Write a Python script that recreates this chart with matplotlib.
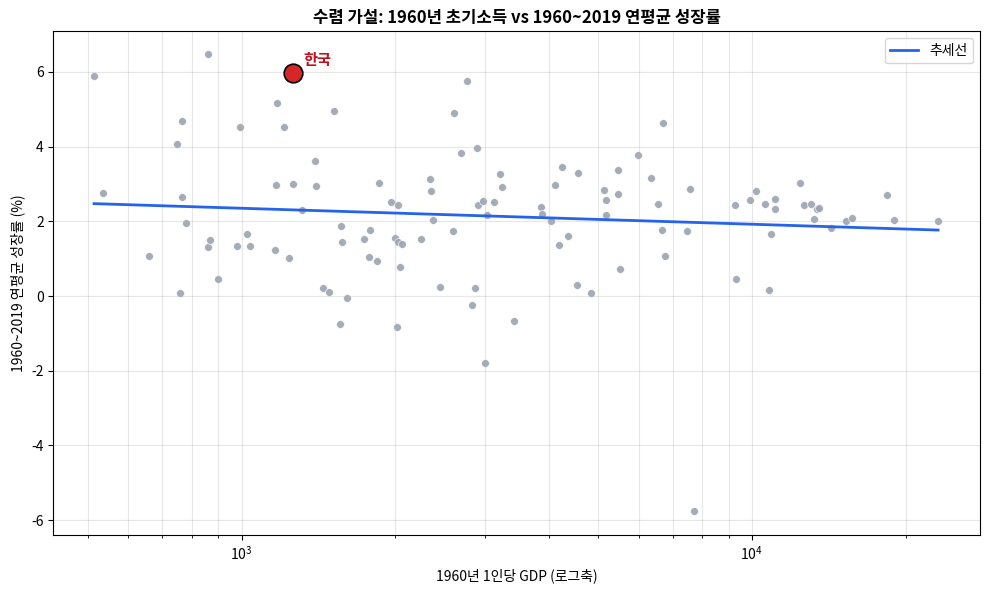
import numpy as np
import matplotlib.pyplot as plt

plt.rcParams['font.family'] = ['Noto Sans CJK KR', 'DejaVu Sans']
plt.rcParams['axes.unicode_minus'] = False

# 1960 GDP per capita and 1960-2019 average growth (%)
gdp_1960 = [514, 536, 660, 746, 756, 763, 766, 777, 858, 858, 869, 901, 978, 995,
            1023, 1041, 1161, 1166, 1176, 1209, 1236, 1259, 1311, 1390, 1397, 1441,
            1481, 1515, 1557, 1564, 1571, 1607, 1735, 1774, 1782, 1839, 1856, 1960,
            1995, 2013, 2023, 2023, 2059, 2041, 2244, 2337, 2348, 2369, 2445, 2593,
            2604, 2688, 2762, 2825, 2864, 2890, 2902, 2969, 2996, 3023, 3120, 3205,
            3235, 3414, 3857, 3874, 4036, 4110, 4185, 4242, 4359, 4540, 4560, 4834,
            5127, 5174, 5174, 5464, 5464, 5513, 5976, 6339, 6542, 6661, 6692, 6753,
            7457, 7559, 7697, 9262, 9304, 9910, 10181, 10605, 10797, 10896, 11092,
            11092, 12418, 12647, 13051, 13230, 13411, 13532, 14285, 15286, 15704,
            18400, 18990, 23160]
growth = [5.88, 2.76, 1.07, 4.07, 0.08, 2.66, 4.69, 1.95, 6.48, 1.31, 1.50, 0.45, 1.34, 4.52,
          1.66, 1.35, 1.23, 2.97, 5.17, 4.52, 1.02, 2.99, 2.30, 3.61, 2.96, 0.21,
          0.11, 4.95, -0.76, 1.87, 1.44, -0.05, 1.52, 1.05, 1.77, 0.94, 3.02, 2.52,
          1.55, -0.83, 2.44, 1.45, 1.39, 0.78, 1.52, 3.13, 2.81, 2.03, 0.24, 1.74,
          4.90, 3.83, 5.76, -0.24, 0.21, 3.96, 2.44, 2.54, -1.80, 2.17, 2.52, 3.27,
          2.92, -0.67, 2.38, 2.20, 2.00, 2.97, 1.37, 3.45, 1.61, 0.29, 3.29, 0.08,
          2.84, 2.57, 2.17, 3.37, 2.73, 0.72, 3.78, 3.16, 2.46, 1.77, 4.63, 1.07,
          1.74, 2.86, -5.75, 2.44, 0.45, 2.57, 2.81, 2.46, 0.16, 1.66, 2.60,
          2.33, 3.03, 2.44, 2.46, 2.06, 2.33, 2.36, 1.82, 2.01, 2.10,
          2.70, 2.03, 2.01]

korea_gdp = 1259
korea_growth = 5.97

x_all = np.array(gdp_1960 + [korea_gdp], dtype=float)
y_all = np.array(growth + [korea_growth])

fig, ax = plt.subplots(figsize=(9.9, 5.9), dpi=100)

ax.scatter(gdp_1960, growth, s=32, color='#9ca3af', alpha=0.9, edgecolors='white', linewidths=0.5)
ax.scatter([korea_gdp], [korea_growth], s=180, color='#d62728', edgecolors='black', linewidths=1.2, zorder=5)
ax.annotate('한국', (korea_gdp, korea_growth), xytext=(8, 6), textcoords='offset points',
            color='#c1121f', fontsize=11, fontweight='bold')

# trend line fitted on log10(gdp)
coef = np.polyfit(np.log10(x_all), y_all, 1)
xs = np.logspace(np.log10(x_all.min()), np.log10(x_all.max()), 100)
ax.plot(xs, np.polyval(coef, np.log10(xs)), color='#2563eb', linewidth=2, label='추세선')

ax.set_xscale('log')
ax.set_xlim(428, 28000)
ax.set_ylim(-6.40, 7.09)
ax.grid(True, which='both', alpha=0.3)
ax.set_title('수렴 가설: 1960년 초기소득 vs 1960~2019 연평균 성장률', fontweight='bold', fontsize=12)
ax.set_xlabel('1960년 1인당 GDP (로그축)')
ax.set_ylabel('1960~2019 연평균 성장률 (%)')
ax.legend(loc='upper right')

fig.subplots_adjust(left=0.054, right=0.99, top=0.947, bottom=0.093)
plt.savefig('out.png')
